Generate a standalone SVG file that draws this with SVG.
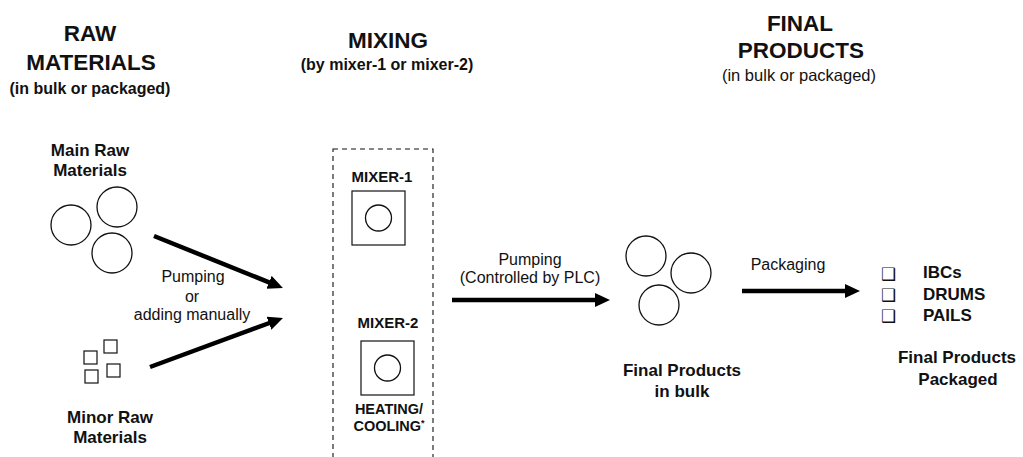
<svg xmlns="http://www.w3.org/2000/svg" width="1023" height="457" viewBox="0 0 1023 457">
<defs>
<style>
text{font-family:"Liberation Sans",Arial,sans-serif;fill:#111;text-anchor:middle}
.h{font-size:22.5px;font-weight:bold}
.hs{font-size:16px;font-weight:bold}
.hr{font-size:16.5px}
.lb{font-size:17px;font-weight:bold}
.mx{font-size:15px;font-weight:bold}
.hc{font-size:14.5px;font-weight:bold}
.r{font-size:16px}
.li{font-size:17px;font-weight:bold;text-anchor:start}
.bx{font-family:"DejaVu Sans",sans-serif;font-size:17px;text-anchor:start}
.c{fill:none;stroke:#111;stroke-width:1.3}
.sq{fill:none;stroke:#111;stroke-width:1.2}
.ar{stroke:#000;stroke-width:4.5;fill:none}
</style>
<marker id="ah" markerUnits="userSpaceOnUse" markerWidth="16" markerHeight="15" refX="2" refY="7" orient="auto">
<path d="M0,0 L15,7 L0,14 Z" fill="#000"/>
</marker>
</defs>
<rect width="1023" height="457" fill="#fff"/>

<g id="header-raw">
<text class="h" x="90" y="41">RAW</text>
<text class="h" x="91" y="70">MATERIALS</text>
<text class="hs" x="90" y="94">(in bulk or packaged)</text>
</g>
<g id="header-mixing">
<text class="h" x="388" y="48">MIXING</text>
<text class="hs" x="387" y="70">(by mixer-1 or mixer-2)</text>
</g>
<g id="header-final">
<text class="h" x="800" y="31">FINAL</text>
<text class="h" x="801" y="58">PRODUCTS</text>
<text class="hr" x="799" y="81">(in bulk or packaged)</text>
</g>

<g id="main-raw">
<text class="lb" x="90" y="156">Main Raw</text>
<text class="lb" x="90" y="176">Materials</text>
<circle class="c" cx="71" cy="225" r="20"/>
<circle class="c" cx="117" cy="207" r="20"/>
<circle class="c" cx="112" cy="253" r="20"/>
</g>

<g id="minor-raw">
<rect class="sq" x="84" y="351" width="13" height="13"/>
<rect class="sq" x="104" y="340" width="13" height="13"/>
<rect class="sq" x="85" y="370" width="13" height="13"/>
<rect class="sq" x="107" y="364" width="13" height="13"/>
<text class="lb" x="110" y="423">Minor Raw</text>
<text class="lb" x="110" y="443">Materials</text>
</g>

<g id="mixing">
<rect x="333" y="149" width="100" height="320" fill="none" stroke="#111" stroke-width="1.1" stroke-dasharray="5,4"/>
<text class="mx" x="382" y="182">MIXER-1</text>
<rect class="sq" x="352" y="191" width="53" height="54"/>
<circle class="c" cx="378.5" cy="218" r="13"/>
<text class="mx" x="388" y="328">MIXER-2</text>
<rect class="sq" x="361" y="341" width="53" height="54"/>
<circle class="c" cx="387.5" cy="368" r="13"/>
<text class="hc" x="389" y="414">HEATING/</text>
<text class="hc" x="389" y="431">COOLING<tspan font-size="9" dy="-5">*</tspan></text>
</g>

<g id="final-bulk">
<circle class="c" cx="646" cy="256" r="20"/>
<circle class="c" cx="691" cy="273" r="20"/>
<circle class="c" cx="659" cy="305" r="20"/>
<text class="lb" x="682" y="376">Final Products</text>
<text class="lb" x="682" y="397">in bulk</text>
</g>

<g id="final-packaged">
<text class="bx" x="881" y="280">❑</text>
<text class="bx" x="881" y="301">❑</text>
<text class="bx" x="881" y="322">❑</text>
<text class="li" x="923" y="278">IBCs</text>
<text class="li" x="923" y="300">DRUMS</text>
<text class="li" x="923" y="321">PAILS</text>
<text class="lb" x="957" y="363">Final Products</text>
<text class="lb" x="958" y="385">Packaged</text>
</g>

<g id="connectors">
<line class="ar" x1="154" y1="236" x2="270.9" y2="283.1" marker-end="url(#ah)"/>
<line class="ar" x1="150" y1="367" x2="270.8" y2="322.5" marker-end="url(#ah)"/>
<text class="r" x="193" y="282">Pumping</text>
<text class="r" x="192" y="302">or</text>
<text class="r" x="192" y="320">adding manually</text>
<line class="ar" x1="452" y1="300" x2="597" y2="300" marker-end="url(#ah)"/>
<text class="r" x="530" y="265">Pumping</text>
<text class="r" x="530" y="283">(Controlled by PLC)</text>
<line class="ar" x1="742" y1="291" x2="847" y2="291" marker-end="url(#ah)"/>
<text class="r" x="788" y="270">Packaging</text>
</g>
</svg>
